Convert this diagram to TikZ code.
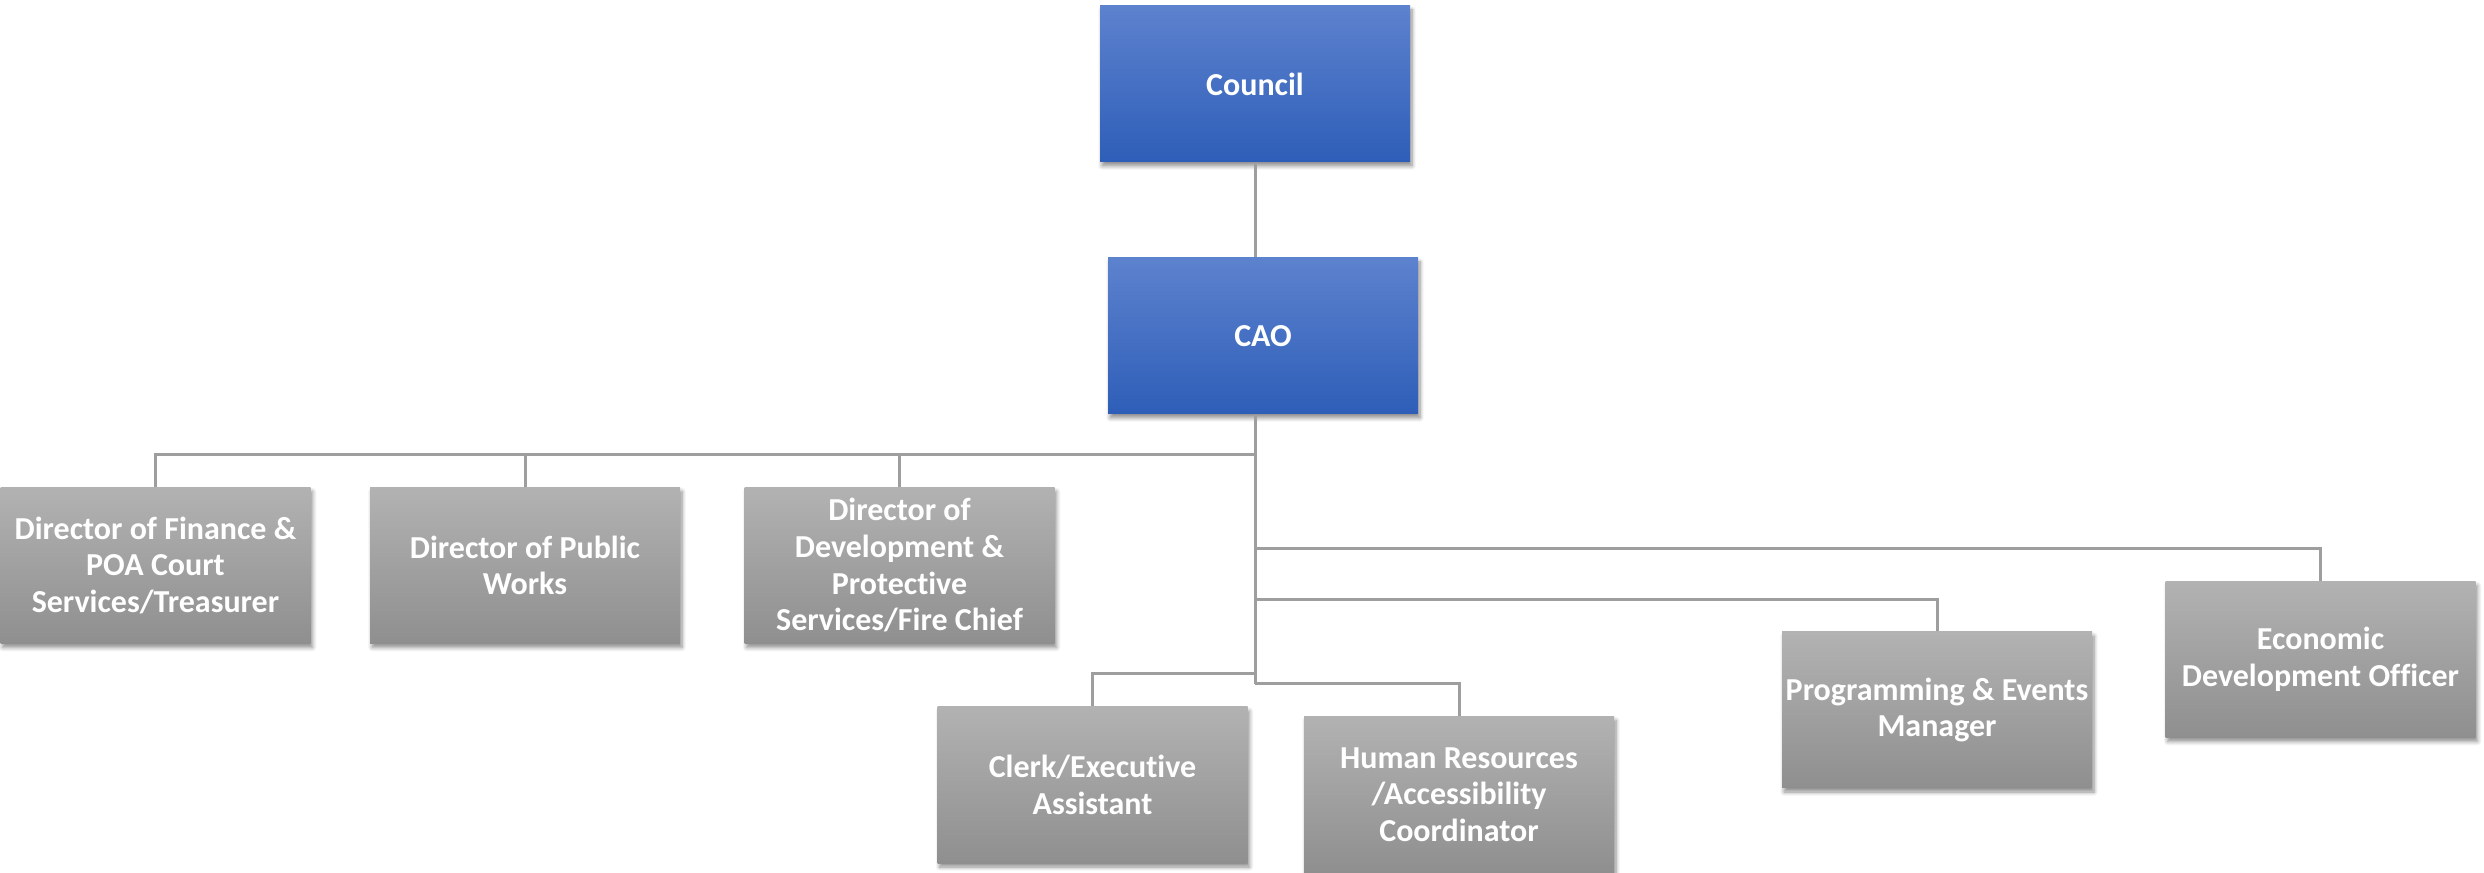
\documentclass[tikz,border=0pt]{standalone}
\usepackage{fontspec}
\setmainfont{Carlito}[Ligatures={NoCommon}]
\usetikzlibrary{shadows.blur}
\definecolor{bluetop}{RGB}{93,130,206}
\definecolor{bluebot}{RGB}{46,94,184}
\definecolor{graytop}{RGB}{178,178,178}
\definecolor{graybot}{RGB}{143,143,143}
\definecolor{linegray}{RGB}{158,158,158}
\tikzset{
  box/.style={draw=none, minimum width=93pt, minimum height=46.8pt, inner sep=0pt,
    align=center, text=white, font=\fontsize{9.6}{11}\selectfont\bfseries,
    blur shadow={shadow xshift=0.6pt, shadow yshift=-1.2pt, shadow blur steps=6, shadow opacity=45, shadow blur radius=1.2pt}},
  bluebox/.style={box, top color=bluetop, bottom color=bluebot},
  graybox/.style={box, top color=graytop, bottom color=graybot},
  conn/.style={draw=linegray, line width=0.9pt}
}
\begin{document}
\begin{tikzpicture}[x=0.3pt, y=-0.3pt]
\useasboundingbox (0,0) rectangle (2484,873);
\node[bluebox] (council) at (1255,84) {Council};
\node[bluebox] (cao) at (1263,336) {CAO};
\node[graybox] (fin) at (155.5,565.5) {Director of Finance \&\\POA Court\\Services/Treasurer};
\node[graybox] (pw) at (525,565.5) {Director of Public\\Works};
\node[graybox] (dev) at (899.5,565.5) {Director of\\Development \&\\Protective\\Services/Fire Chief};
\node[graybox] (clerk) at (1092.5,785) {Clerk/Executive\\Assistant};
\node[graybox] (hr) at (1459,794.5) {Human Resources\\/Accessibility\\Coordinator};
\node[graybox] (prog) at (1937,710) {Programming \& Events\\Manager};
\node[graybox] (econ) at (2320.5,659.5) {Economic\\Development Officer};
\coordinate (b1) at (1255,455);
\coordinate (b2) at (1255,549);
\coordinate (b3) at (1255,600);
\coordinate (b4) at (1255,674);
\coordinate (b5) at (1255,684);
\draw[conn] (council.south) -- (council.south |- cao.north);
\draw[conn] (council.south |- cao.south) -- (b5);
\draw[conn] (b1) -| (fin.north);
\draw[conn] (b1) -| (pw.north);
\draw[conn] (b1) -| (dev.north);
\draw[conn] (b2) -| (econ.north);
\draw[conn] (b3) -| (prog.north);
\draw[conn] (b4) -| (clerk.north);
\draw[conn] (b5) -| (hr.north);
\end{tikzpicture}
\end{document}
